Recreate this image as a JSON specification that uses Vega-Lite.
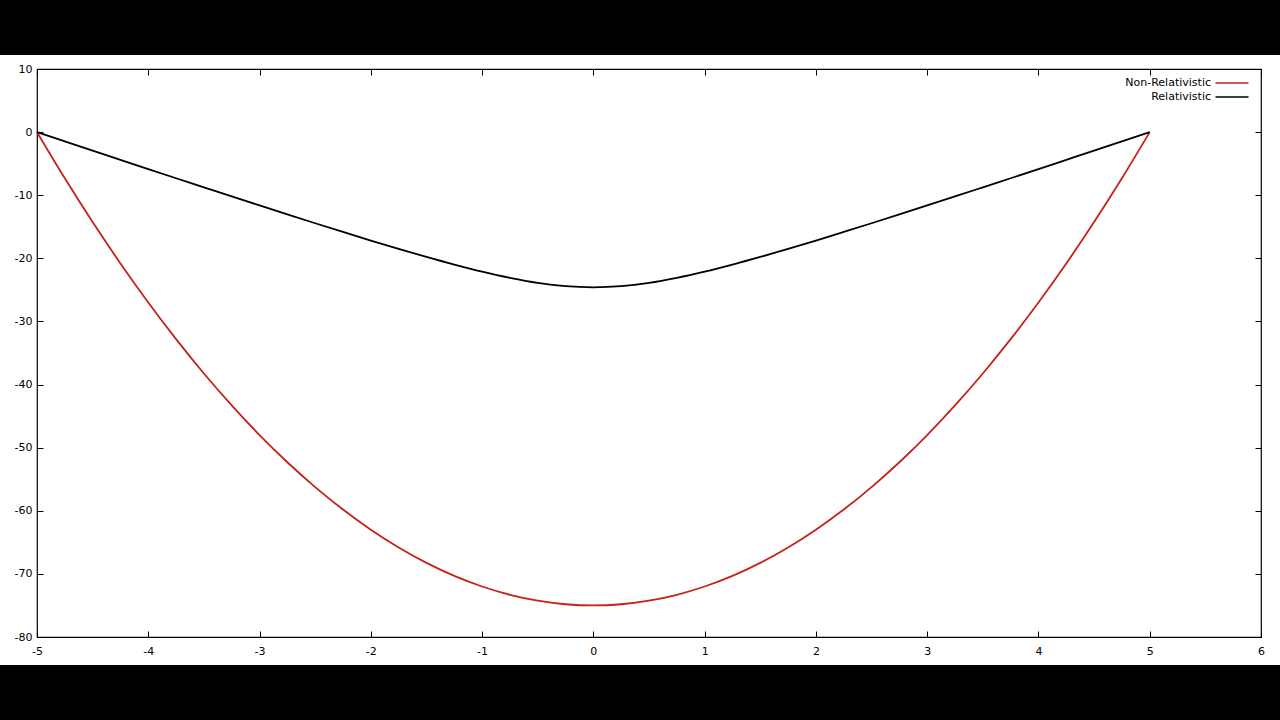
{
  "$schema": "https://vega.github.io/schema/vega-lite/v6.json",
  "width": 1224,
  "height": 568,
  "autosize": {"type": "none"},
  "padding": {"left": 37, "top": 69, "right": 19, "bottom": 83},
  "background": "white",
  "config": {
    "font": "DejaVu Sans",
    "view": {"stroke": "#000", "strokeWidth": 1.2, "fill": "white"},
    "axis": {
      "grid": false,
      "title": null,
      "domain": false,
      "ticks": true,
      "tickSize": -6,
      "tickColor": "#000",
      "tickWidth": 1,
      "labelFont": "DejaVu Sans",
      "labelFontSize": 11,
      "labelColor": "#000",
      "labelFlush": false,
      "labelOverlap": false,
      "labelExpr": "'' + datum.value"
    }
  },
  "datasets": {
    "curves": [
      {"x": -5, "y": 0, "series": "Non-Relativistic"},
      {"x": -4.75, "y": -7.31, "series": "Non-Relativistic"},
      {"x": -4.5, "y": -14.25, "series": "Non-Relativistic"},
      {"x": -4.25, "y": -20.81, "series": "Non-Relativistic"},
      {"x": -4, "y": -27, "series": "Non-Relativistic"},
      {"x": -3.75, "y": -32.81, "series": "Non-Relativistic"},
      {"x": -3.5, "y": -38.25, "series": "Non-Relativistic"},
      {"x": -3.25, "y": -43.31, "series": "Non-Relativistic"},
      {"x": -3, "y": -48, "series": "Non-Relativistic"},
      {"x": -2.75, "y": -52.31, "series": "Non-Relativistic"},
      {"x": -2.5, "y": -56.25, "series": "Non-Relativistic"},
      {"x": -2.25, "y": -59.81, "series": "Non-Relativistic"},
      {"x": -2, "y": -63, "series": "Non-Relativistic"},
      {"x": -1.75, "y": -65.81, "series": "Non-Relativistic"},
      {"x": -1.5, "y": -68.25, "series": "Non-Relativistic"},
      {"x": -1.25, "y": -70.31, "series": "Non-Relativistic"},
      {"x": -1, "y": -72, "series": "Non-Relativistic"},
      {"x": -0.75, "y": -73.31, "series": "Non-Relativistic"},
      {"x": -0.5, "y": -74.25, "series": "Non-Relativistic"},
      {"x": -0.25, "y": -74.81, "series": "Non-Relativistic"},
      {"x": 0, "y": -75, "series": "Non-Relativistic"},
      {"x": 0.25, "y": -74.81, "series": "Non-Relativistic"},
      {"x": 0.5, "y": -74.25, "series": "Non-Relativistic"},
      {"x": 0.75, "y": -73.31, "series": "Non-Relativistic"},
      {"x": 1, "y": -72, "series": "Non-Relativistic"},
      {"x": 1.25, "y": -70.31, "series": "Non-Relativistic"},
      {"x": 1.5, "y": -68.25, "series": "Non-Relativistic"},
      {"x": 1.75, "y": -65.81, "series": "Non-Relativistic"},
      {"x": 2, "y": -63, "series": "Non-Relativistic"},
      {"x": 2.25, "y": -59.81, "series": "Non-Relativistic"},
      {"x": 2.5, "y": -56.25, "series": "Non-Relativistic"},
      {"x": 2.75, "y": -52.31, "series": "Non-Relativistic"},
      {"x": 3, "y": -48, "series": "Non-Relativistic"},
      {"x": 3.25, "y": -43.31, "series": "Non-Relativistic"},
      {"x": 3.5, "y": -38.25, "series": "Non-Relativistic"},
      {"x": 3.75, "y": -32.81, "series": "Non-Relativistic"},
      {"x": 4, "y": -27, "series": "Non-Relativistic"},
      {"x": 4.25, "y": -20.81, "series": "Non-Relativistic"},
      {"x": 4.5, "y": -14.25, "series": "Non-Relativistic"},
      {"x": 4.75, "y": -7.31, "series": "Non-Relativistic"},
      {"x": 5, "y": 0, "series": "Non-Relativistic"},
      {"x": -5, "y": 0, "series": "Relativistic"},
      {"x": -4.75, "y": -1.47, "series": "Relativistic"},
      {"x": -4.5, "y": -2.94, "series": "Relativistic"},
      {"x": -4.25, "y": -4.4, "series": "Relativistic"},
      {"x": -4, "y": -5.86, "series": "Relativistic"},
      {"x": -3.75, "y": -7.31, "series": "Relativistic"},
      {"x": -3.5, "y": -8.75, "series": "Relativistic"},
      {"x": -3.25, "y": -10.19, "series": "Relativistic"},
      {"x": -3, "y": -11.62, "series": "Relativistic"},
      {"x": -2.75, "y": -13.04, "series": "Relativistic"},
      {"x": -2.5, "y": -14.44, "series": "Relativistic"},
      {"x": -2.25, "y": -15.82, "series": "Relativistic"},
      {"x": -2, "y": -17.18, "series": "Relativistic"},
      {"x": -1.75, "y": -18.5, "series": "Relativistic"},
      {"x": -1.5, "y": -19.78, "series": "Relativistic"},
      {"x": -1.25, "y": -20.99, "series": "Relativistic"},
      {"x": -1, "y": -22.11, "series": "Relativistic"},
      {"x": -0.75, "y": -23.09, "series": "Relativistic"},
      {"x": -0.5, "y": -23.89, "series": "Relativistic"},
      {"x": -0.25, "y": -24.41, "series": "Relativistic"},
      {"x": 0, "y": -24.59, "series": "Relativistic"},
      {"x": 0.25, "y": -24.41, "series": "Relativistic"},
      {"x": 0.5, "y": -23.89, "series": "Relativistic"},
      {"x": 0.75, "y": -23.09, "series": "Relativistic"},
      {"x": 1, "y": -22.11, "series": "Relativistic"},
      {"x": 1.25, "y": -20.99, "series": "Relativistic"},
      {"x": 1.5, "y": -19.78, "series": "Relativistic"},
      {"x": 1.75, "y": -18.5, "series": "Relativistic"},
      {"x": 2, "y": -17.18, "series": "Relativistic"},
      {"x": 2.25, "y": -15.82, "series": "Relativistic"},
      {"x": 2.5, "y": -14.44, "series": "Relativistic"},
      {"x": 2.75, "y": -13.04, "series": "Relativistic"},
      {"x": 3, "y": -11.62, "series": "Relativistic"},
      {"x": 3.25, "y": -10.19, "series": "Relativistic"},
      {"x": 3.5, "y": -8.75, "series": "Relativistic"},
      {"x": 3.75, "y": -7.31, "series": "Relativistic"},
      {"x": 4, "y": -5.86, "series": "Relativistic"},
      {"x": 4.25, "y": -4.4, "series": "Relativistic"},
      {"x": 4.5, "y": -2.94, "series": "Relativistic"},
      {"x": 4.75, "y": -1.47, "series": "Relativistic"},
      {"x": 5, "y": 0, "series": "Relativistic"}
    ]
  },
  "layer": [
    {
      "data": {"values": [{}]},
      "mark": {"type": "rect", "color": "black"},
      "encoding": {
        "x": {"datum": -5.5, "type": "quantitative", "scale": {"domain": [-5, 6], "nice": false, "zero": false},
              "axis": {"orient": "top", "labels": false, "values": [-5, -4, -3, -2, -1, 0, 1, 2, 3, 4, 5, 6]}},
        "x2": {"datum": 6.3},
        "y": {"datum": 22, "type": "quantitative", "scale": {"domain": [-80, 10], "nice": false, "zero": false},
              "axis": {"orient": "right", "labels": false, "values": [-80, -70, -60, -50, -40, -30, -20, -10, 0, 10]}},
        "y2": {"datum": 12.22}
      }
    },
    {
      "data": {"values": [{}]},
      "mark": {"type": "rect", "color": "black"},
      "encoding": {
        "x": {"datum": -5.5, "type": "quantitative", "axis": null},
        "x2": {"datum": 6.3},
        "y": {"datum": -84.44, "type": "quantitative", "axis": null},
        "y2": {"datum": -95}
      }
    },
    {
      "data": {"name": "curves"},
      "mark": {"type": "line", "strokeWidth": 1.8, "interpolate": "monotone"},
      "encoding": {
        "x": {"field": "x", "type": "quantitative",
              "axis": {"orient": "bottom", "labelPadding": 14, "values": [-5, -4, -3, -2, -1, 0, 1, 2, 3, 4, 5, 6]}},
        "y": {"field": "y", "type": "quantitative",
              "axis": {"orient": "left", "labelPadding": 11, "values": [-80, -70, -60, -50, -40, -30, -20, -10, 0, 10]}},
        "color": {
          "field": "series",
          "type": "nominal",
          "scale": {"domain": ["Non-Relativistic", "Relativistic"], "range": ["#c4221a", "#000000"]},
          "legend": {
            "title": null,
            "orient": "none",
            "legendX": 1189,
            "legendY": 8,
            "padding": 0,
            "symbolType": "M-3.3,0H3.3",
            "symbolSize": 100,
            "symbolStrokeWidth": 1.6,
            "labelAlign": "right",
            "labelOffset": -27,
            "labelFontSize": 11,
            "labelFont": "DejaVu Sans",
            "labelColor": "#000",
            "rowPadding": 3
          }
        }
      }
    }
  ]
}
